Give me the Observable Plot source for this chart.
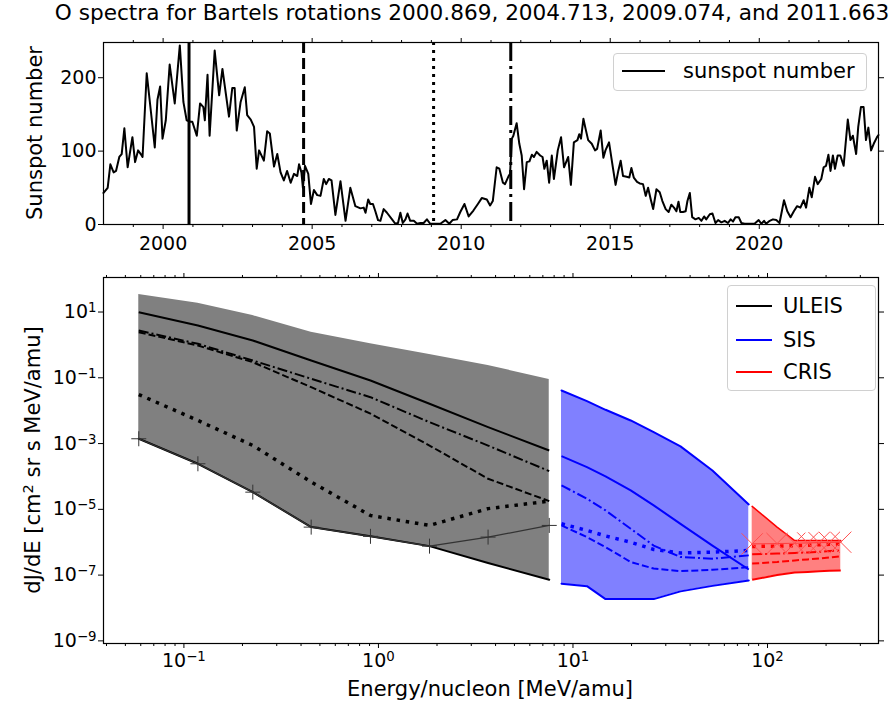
<!DOCTYPE html>
<html><head><meta charset="utf-8">
<script src="https://cdn.jsdelivr.net/npm/d3@7"></script>
<script src="https://cdn.jsdelivr.net/npm/@observablehq/plot@0.6"></script>
<style>
body{margin:0;background:#fff;font-family:"DejaVu Sans",sans-serif;}
#fig{position:relative;width:896px;height:704px;overflow:hidden;background:#fff}
#fig svg{position:absolute;left:0}
.lbl{position:absolute;white-space:nowrap;font-size:21px;color:#000;line-height:1}
.rot{transform:translate(-50%,-50%) rotate(-90deg)}
.ctr{transform:translate(-50%,-50%)}
.leg{position:absolute;background:rgba(255,255,255,0.8);border:1px solid #d0d0d0;border-radius:4px;box-sizing:border-box}
.legrow{position:absolute;font-size:21px;white-space:nowrap;line-height:1}
.sw{position:absolute;height:0;border-top:2px solid #000}
</style></head><body><div id="fig"></div><script>
// ---------- sunspot number ----------
const ssYear = [1998.00,1998.14,1998.23,1998.34,1998.42,1998.53,1998.61,1998.70,1998.81,1998.97,1999.06,1999.16,1999.25,1999.31,1999.45,1999.59,1999.72,1999.81,1999.90,1999.98,2000.09,2000.22,2000.39,2000.56,2000.68,2000.79,2000.91,2000.98,2001.13,2001.24,2001.35,2001.40,2001.49,2001.56,2001.73,2001.88,2001.99,2002.21,2002.32,2002.40,2002.47,2002.60,2002.74,2002.82,2002.94,2003.05,2003.14,2003.22,2003.38,2003.49,2003.58,2003.72,2003.83,2003.94,2004.05,2004.16,2004.28,2004.39,2004.50,2004.56,2004.64,2004.69,2004.76,2004.87,2004.96,2005.06,2005.17,2005.28,2005.39,2005.47,2005.56,2005.65,2005.78,2005.95,2006.12,2006.28,2006.45,2006.62,2006.73,2006.79,2006.88,2006.95,2007.04,2007.12,2007.21,2007.29,2007.40,2007.51,2007.68,2007.79,2007.88,2007.96,2008.04,2008.13,2008.20,2008.29,2008.41,2008.52,2008.63,2008.74,2008.85,2008.96,2009.13,2009.30,2009.47,2009.60,2009.71,2009.86,2009.97,2010.11,2010.25,2010.41,2010.56,2010.69,2010.86,2010.97,2011.06,2011.19,2011.28,2011.40,2011.47,2011.59,2011.64,2011.70,2011.75,2011.86,2011.95,2012.03,2012.11,2012.20,2012.29,2012.37,2012.44,2012.53,2012.65,2012.73,2012.79,2012.87,2012.95,2013.04,2013.11,2013.24,2013.35,2013.45,2013.59,2013.68,2013.78,2013.90,2013.96,2014.02,2014.10,2014.17,2014.26,2014.38,2014.49,2014.56,2014.68,2014.77,2014.84,2014.96,2015.08,2015.18,2015.27,2015.35,2015.43,2015.55,2015.64,2015.71,2015.79,2015.90,2015.99,2016.10,2016.19,2016.27,2016.36,2016.44,2016.55,2016.66,2016.75,2016.86,2016.96,2017.05,2017.14,2017.22,2017.29,2017.35,2017.44,2017.53,2017.59,2017.67,2017.75,2017.86,2017.97,2018.06,2018.15,2018.22,2018.34,2018.43,2018.53,2018.62,2018.73,2018.84,2018.95,2019.04,2019.12,2019.20,2019.31,2019.40,2019.51,2019.62,2019.73,2019.84,2019.98,2020.07,2020.16,2020.23,2020.35,2020.46,2020.57,2020.68,2020.83,2020.94,2021.05,2021.16,2021.27,2021.38,2021.49,2021.57,2021.68,2021.76,2021.87,2021.96,2022.08,2022.16,2022.24,2022.32,2022.39,2022.47,2022.54,2022.63,2022.72,2022.83,2022.97,2023.06,2023.14,2023.25,2023.32,2023.41,2023.50,2023.58,2023.66,2023.75,2023.84,2023.95,2024.00];
const ssValue = [43,50,82,71,73,92,96,131,78,119,85,101,96,92,206,154,105,170,188,117,142,218,165,244,167,142,140,140,121,165,160,142,204,121,237,176,212,147,186,186,128,167,187,149,143,133,76,101,87,127,124,79,96,71,60,73,57,69,66,82,71,50,80,69,28,47,40,39,62,55,62,60,13,59,5,50,25,22,23,16,34,28,28,18,6,5,21,16,7,1,2,16,2,7,15,5,5,1,2,2,7,1,1,1,6,1,6,7,17,28,11,19,28,36,34,26,32,78,76,57,55,66,69,117,121,138,110,94,48,85,86,95,92,99,94,92,76,87,57,94,62,101,119,78,92,54,112,115,123,117,144,131,115,110,101,103,128,91,101,112,80,54,73,87,66,65,64,77,64,58,56,55,39,50,34,21,48,44,32,21,17,27,23,18,31,17,17,18,32,43,10,7,9,5,11,7,14,15,2,6,3,5,2,7,4,10,10,2,1,1,1,1,6,1,5,1,5,7,6,2,33,18,10,18,25,23,33,23,50,37,65,55,62,78,80,95,73,94,76,94,94,80,143,115,121,96,133,160,160,115,132,101,110,119,122];
const bartelsYears = [2000.869, 2004.713, 2009.074, 2011.663];
const yearTicks = [2000, 2005, 2010, 2015, 2020];
const yearMinor = [1999,2001,2002,2003,2004,2006,2007,2008,2009,2011,2012,2013,2014,2016,2017,2018,2019,2021,2022,2023];
const ssTicks = [0, 100, 200];

// ---------- spectra ----------
const uleisE = [0.0586, 0.118, 0.226, 0.451, 0.91, 1.83, 3.66, 7.55];
const uleisHi = [34, 18.5, 7.8, 2.43, 1.08, 0.51, 0.237, 0.0887];
const uleisLo = [1.4e-3, 2.43e-4, 3.33e-5, 2.88e-6, 1.51e-6, 7.6e-7, 2.32e-7, 7.2e-8];
const uleis2000 = [9.86, 3.89, 1.36, 0.336, 0.0828, 0.0162, 3.16e-3, 6.17e-4];
const uleis2004 = [2.43, 0.96, 0.298, 0.0518, 8.13e-3, 8.7e-4, 8.5e-5, 1.78e-5];
const uleis2009 = [0.031, 5.04e-3, 8.75e-4, 6.8e-5, 6.5e-6, 3.24e-6, 1.05e-5, 1.78e-5];
const uleis2011 = [2.74, 1.08, 0.336, 0.0933, 0.0257, 4.47e-3, 8.7e-4, 1.45e-4];
const uleisBg = [1.4e-3, 2.43e-4, 3.33e-5, 2.88e-6, 1.51e-6, 7.6e-7, 1.43e-6, 3.24e-6];

const sisE = [8.73, 11.8, 14.7, 19.8, 26.0, 35.7, 52.1, 80.1];
const sisHi = [0.0411, 0.01945, 0.01064, 5.04e-3, 2.22e-3, 8.2e-4, 1.52e-4, 1.41e-5];
const sisLo = [5.5e-8, 4.6e-8, 1.86e-8, 1.86e-8, 1.86e-8, 3.2e-8, 4.7e-8, 6.9e-8];
const sis2000 = [4.14e-4, 1.92e-4, 1.0e-4, 3.75e-5, 1.32e-5, 3.63e-6, 7.9e-7, 1.48e-7];
const sis2004 = [3.24e-6, 1.43e-6, 7.1e-7, 2.5e-7, 1.58e-7, 1.32e-7, 1.45e-7, 1.74e-7];
const sis2009 = [3.63e-6, 2.29e-6, 1.55e-6, 1.0e-6, 6.0e-7, 4.7e-7, 5.0e-7, 5.6e-7];
const sis2011 = [5.37e-5, 2.09e-5, 9.3e-6, 2.57e-6, 7.9e-7, 3.55e-7, 3.16e-7, 3.98e-7];

const crisE = [83.4, 112, 138, 161, 184, 208, 238];
const crisHi = [1.23e-5, 2.88e-6, 1.12e-6, 1.12e-6, 1.12e-6, 1.12e-6, 1.12e-6];
const crisLo = [7.2e-8, 1.0e-7, 1.2e-7, 1.25e-7, 1.3e-7, 1.35e-7, 1.38e-7];
const cris2000 = [7.2e-8, 1.0e-7, 1.2e-7, 1.25e-7, 1.3e-7, 1.35e-7, 1.38e-7];
const cris2004 = [2.24e-7, 2.5e-7, 2.8e-7, 3.0e-7, 3.2e-7, 3.45e-7, 3.7e-7];
const cris2009 = [7.4e-7, 7.6e-7, 7.9e-7, 8.1e-7, 8.4e-7, 8.6e-7, 8.9e-7];
const cris2011 = [4.3e-7, 4.5e-7, 4.7e-7, 4.9e-7, 5.1e-7, 5.4e-7, 5.6e-7];
const crisBg = [8.9e-7, 9.1e-7, 9.3e-7, 9.5e-7, 9.7e-7, 9.9e-7, 1.0e-6];

const energyTicks = [0.1, 1, 10, 100];
const energyTickLabels = ["10^-1", "10^0", "10^1", "10^2"];
const energyMinor = [0.04,0.05,0.06,0.07,0.08,0.09,0.2,0.3,0.4,0.5,0.6,0.7,0.8,0.9,2,3,4,5,6,7,8,9,20,30,40,50,60,70,80,90,200,300];
const fluxTicks = [1e1, 1e-1, 1e-3, 1e-5, 1e-7, 1e-9];
const fluxTickLabels = ["10^1", "10^-1", "10^-3", "10^-5", "10^-7", "10^-9"];

// ---------- helpers ----------
const rows = (E, arr) => E.map((e, i) => ({e, v: arr[i]}));
const band = (E, lo, hi) => E.map((e, i) => ({e, lo: lo[i], hi: hi[i]}));
const DASH = {solid: null, dashed: "7,3", dotted: "3.5,5.8", dashdot: "10,3,2,3"};
const plusSym = {draw(ctx, size) { const r = Math.sqrt(size / Math.PI); ctx.moveTo(-r, 0); ctx.lineTo(r, 0); ctx.moveTo(0, -r); ctx.lineTo(0, r); }};
const timesSym = {draw(ctx, size) { const r = Math.sqrt(size / Math.PI) * 0.7071; ctx.moveTo(-r, -r); ctx.lineTo(r, r); ctx.moveTo(-r, r); ctx.lineTo(r, -r); }};
const labelFor = (ticks, labels) => d => labels[ticks.findIndex(t => Math.abs(t - d) / t < 1e-6)] ?? "";

function supify(svg) {
  svg.querySelectorAll("text").forEach(t => {
    const m = t.textContent.match(/^10\^(.+)$/);
    if (m) {
      t.textContent = "10";
      const ts = document.createElementNS("http://www.w3.org/2000/svg", "tspan");
      ts.setAttribute("dy", "-0.45em");
      ts.setAttribute("font-size", "0.7em");
      ts.textContent = m[1].replace("-", "\u2212");
      t.appendChild(ts);
    }
  });
}

const fig = document.getElementById("fig");
const baseStyle = {fontFamily: "DejaVu Sans", fontSize: "19px", color: "#000", background: "transparent", overflow: "visible"};

// ---------- top panel ----------
const ss = ssYear.map((y, i) => ({year: y, v: ssValue[i]}));
const bartDash = [null, "11,5", "3,5", "19,5,3,5"];
const topPlot = Plot.plot({
  width: 896, height: 260,
  marginLeft: 103, marginRight: 18, marginTop: 42, marginBottom: 36,
  x: {domain: [1998.0, 2024.0]},
  y: {domain: [0, 248]},
  style: baseStyle,
  marks: [
    Plot.line(ss, {x: "year", y: "v", stroke: "black", strokeWidth: 2}),
    ...bartelsYears.map((y, i) => Plot.ruleX([y], {stroke: "black", strokeWidth: 3, strokeDasharray: bartDash[i], strokeLinecap: "butt"})),
    Plot.frame({stroke: "black", strokeWidth: 1.2}),
    Plot.axisX({ticks: yearTicks, tickFormat: d => String(d), tickSize: 5, tickPadding: 7, label: null}),
    Plot.axisX({ticks: yearMinor, tickFormat: () => "", tickSize: 3, label: null}),
    Plot.axisX({anchor: "top", ticks: yearTicks, tickFormat: () => "", tickSize: 5, label: null}),
    Plot.axisX({anchor: "top", ticks: yearMinor, tickFormat: () => "", tickSize: 3, label: null}),
    Plot.axisY({ticks: ssTicks, tickFormat: d => String(d), tickSize: 5, tickPadding: 2, label: null}),
    Plot.axisY({anchor: "right", ticks: ssTicks, tickFormat: () => "", tickSize: 5, label: null})
  ]
});
topPlot.style.top = "0px";
fig.appendChild(topPlot);

// ---------- bottom panel ----------
const lineMarks = (E, sets, color, w) => sets.map(([arr, style]) => Plot.line(rows(E, arr), {x: "e", y: "v", stroke: color, strokeWidth: style === "dotted" ? 3.5 : w, strokeDasharray: DASH[style], strokeLinecap: "butt"}));
const botPlot = Plot.plot({
  width: 896, height: 444,
  marginLeft: 103, marginRight: 18, marginTop: 17, marginBottom: 61,
  x: {type: "log", domain: [0.0386, 372]},
  y: {type: "log", domain: [Math.pow(10, -9.08), Math.pow(10, 2.05)]},
  style: baseStyle,
  marks: [
    Plot.areaY(band(uleisE, uleisLo, uleisHi), {x: "e", y1: "lo", y2: "hi", fill: "#808080"}),
    Plot.areaY(band(sisE, sisLo, sisHi), {x: "e", y1: "lo", y2: "hi", fill: "#8080ff"}),
    Plot.areaY(band(crisE, crisLo, crisHi), {x: "e", y1: "lo", y2: "hi", fill: "#ff8080"}),
    Plot.line(rows(uleisE, uleisLo), {x: "e", y: "v", stroke: "black", strokeWidth: 2}),
    Plot.line(rows(sisE, sisHi), {x: "e", y: "v", stroke: "blue", strokeWidth: 2}),
    Plot.line(rows(sisE, sisLo), {x: "e", y: "v", stroke: "blue", strokeWidth: 2}),
    Plot.line(rows(crisE, crisHi), {x: "e", y: "v", stroke: "red", strokeWidth: 1.5}),
    ...lineMarks(uleisE, [[uleis2000, "solid"], [uleis2004, "dashed"], [uleis2009, "dotted"], [uleis2011, "dashdot"]], "black", 2),
    ...lineMarks(sisE, [[sis2000, "solid"], [sis2004, "dashed"], [sis2009, "dotted"], [sis2011, "dashdot"]], "blue", 2),
    ...lineMarks(crisE, [[cris2000, "solid"], [cris2004, "dashed"], [cris2009, "dotted"], [cris2011, "dashdot"]], "red", 2),
    Plot.line(rows(uleisE, uleisBg), {x: "e", y: "v", stroke: "#333", strokeWidth: 1.3}),
    Plot.dot(rows(uleisE, uleisBg), {x: "e", y: "v", symbol: plusSym, r: 7.5, stroke: "#333", strokeWidth: 1, fill: "none"}),
    Plot.line(rows(crisE, crisBg), {x: "e", y: "v", stroke: "#ff4040", strokeWidth: 1.2}),
    Plot.dot(rows(crisE, crisBg), {x: "e", y: "v", symbol: timesSym, r: 15, stroke: "#ff5050", strokeWidth: 1, fill: "none"}),
    Plot.frame({stroke: "black", strokeWidth: 1.2}),
    Plot.axisX({ticks: energyTicks, tickFormat: labelFor(energyTicks, energyTickLabels), tickSize: 5, tickPadding: 5, label: null}),
    Plot.axisX({ticks: energyMinor, tickFormat: () => "", tickSize: 3, label: null}),
    Plot.axisX({anchor: "top", ticks: energyTicks, tickFormat: () => "", tickSize: 5, label: null}),
    Plot.axisX({anchor: "top", ticks: energyMinor, tickFormat: () => "", tickSize: 3, label: null}),
    Plot.axisY({ticks: fluxTicks, tickFormat: labelFor(fluxTicks, fluxTickLabels), tickSize: 5, tickPadding: 2, label: null}),
    Plot.axisY({anchor: "right", ticks: fluxTicks, tickFormat: () => "", tickSize: 5, label: null})
  ]
});
botPlot.style.top = "260px";
supify(botPlot);
fig.appendChild(botPlot);

// ---------- text ----------
function addDiv(html, cls, css) { const d = document.createElement("div"); d.className = cls; d.innerHTML = html; Object.assign(d.style, css); fig.appendChild(d); return d; }
addDiv("O spectra for Bartels rotations 2000.869, 2004.713, 2009.074, and 2011.663", "lbl ctr", {left: "472px", top: "13px", fontSize: "21.6px"});
addDiv("Sunspot number", "lbl rot", {left: "35px", top: "133px"});
addDiv("dJ/dE [cm<sup style='font-size:0.7em;vertical-align:0.45em;line-height:0'>2</sup> sr s MeV/amu]", "lbl rot", {left: "33px", top: "460px"});
addDiv("Energy/nucleon [MeV/amu]", "lbl ctr", {left: "490px", top: "689px"});

// legends
addDiv("", "leg", {left: "613px", top: "53px", width: "254px", height: "38px"});
addDiv("", "sw", {left: "622px", top: "70px", width: "43px"});
addDiv("sunspot number", "legrow", {left: "683px", top: "61px"});

addDiv("", "leg", {left: "727px", top: "285px", width: "149px", height: "106px"});
const legItems = [["ULEIS", "black", 306], ["SIS", "blue", 340], ["CRIS", "red", 372]];
legItems.forEach(([t, c, y]) => {
  addDiv("", "sw", {left: "736px", top: (y - 1) + "px", width: "36px", borderTopColor: c});
  addDiv(t, "legrow", {left: "783px", top: (y - 10) + "px"});
});
</script></body></html>
